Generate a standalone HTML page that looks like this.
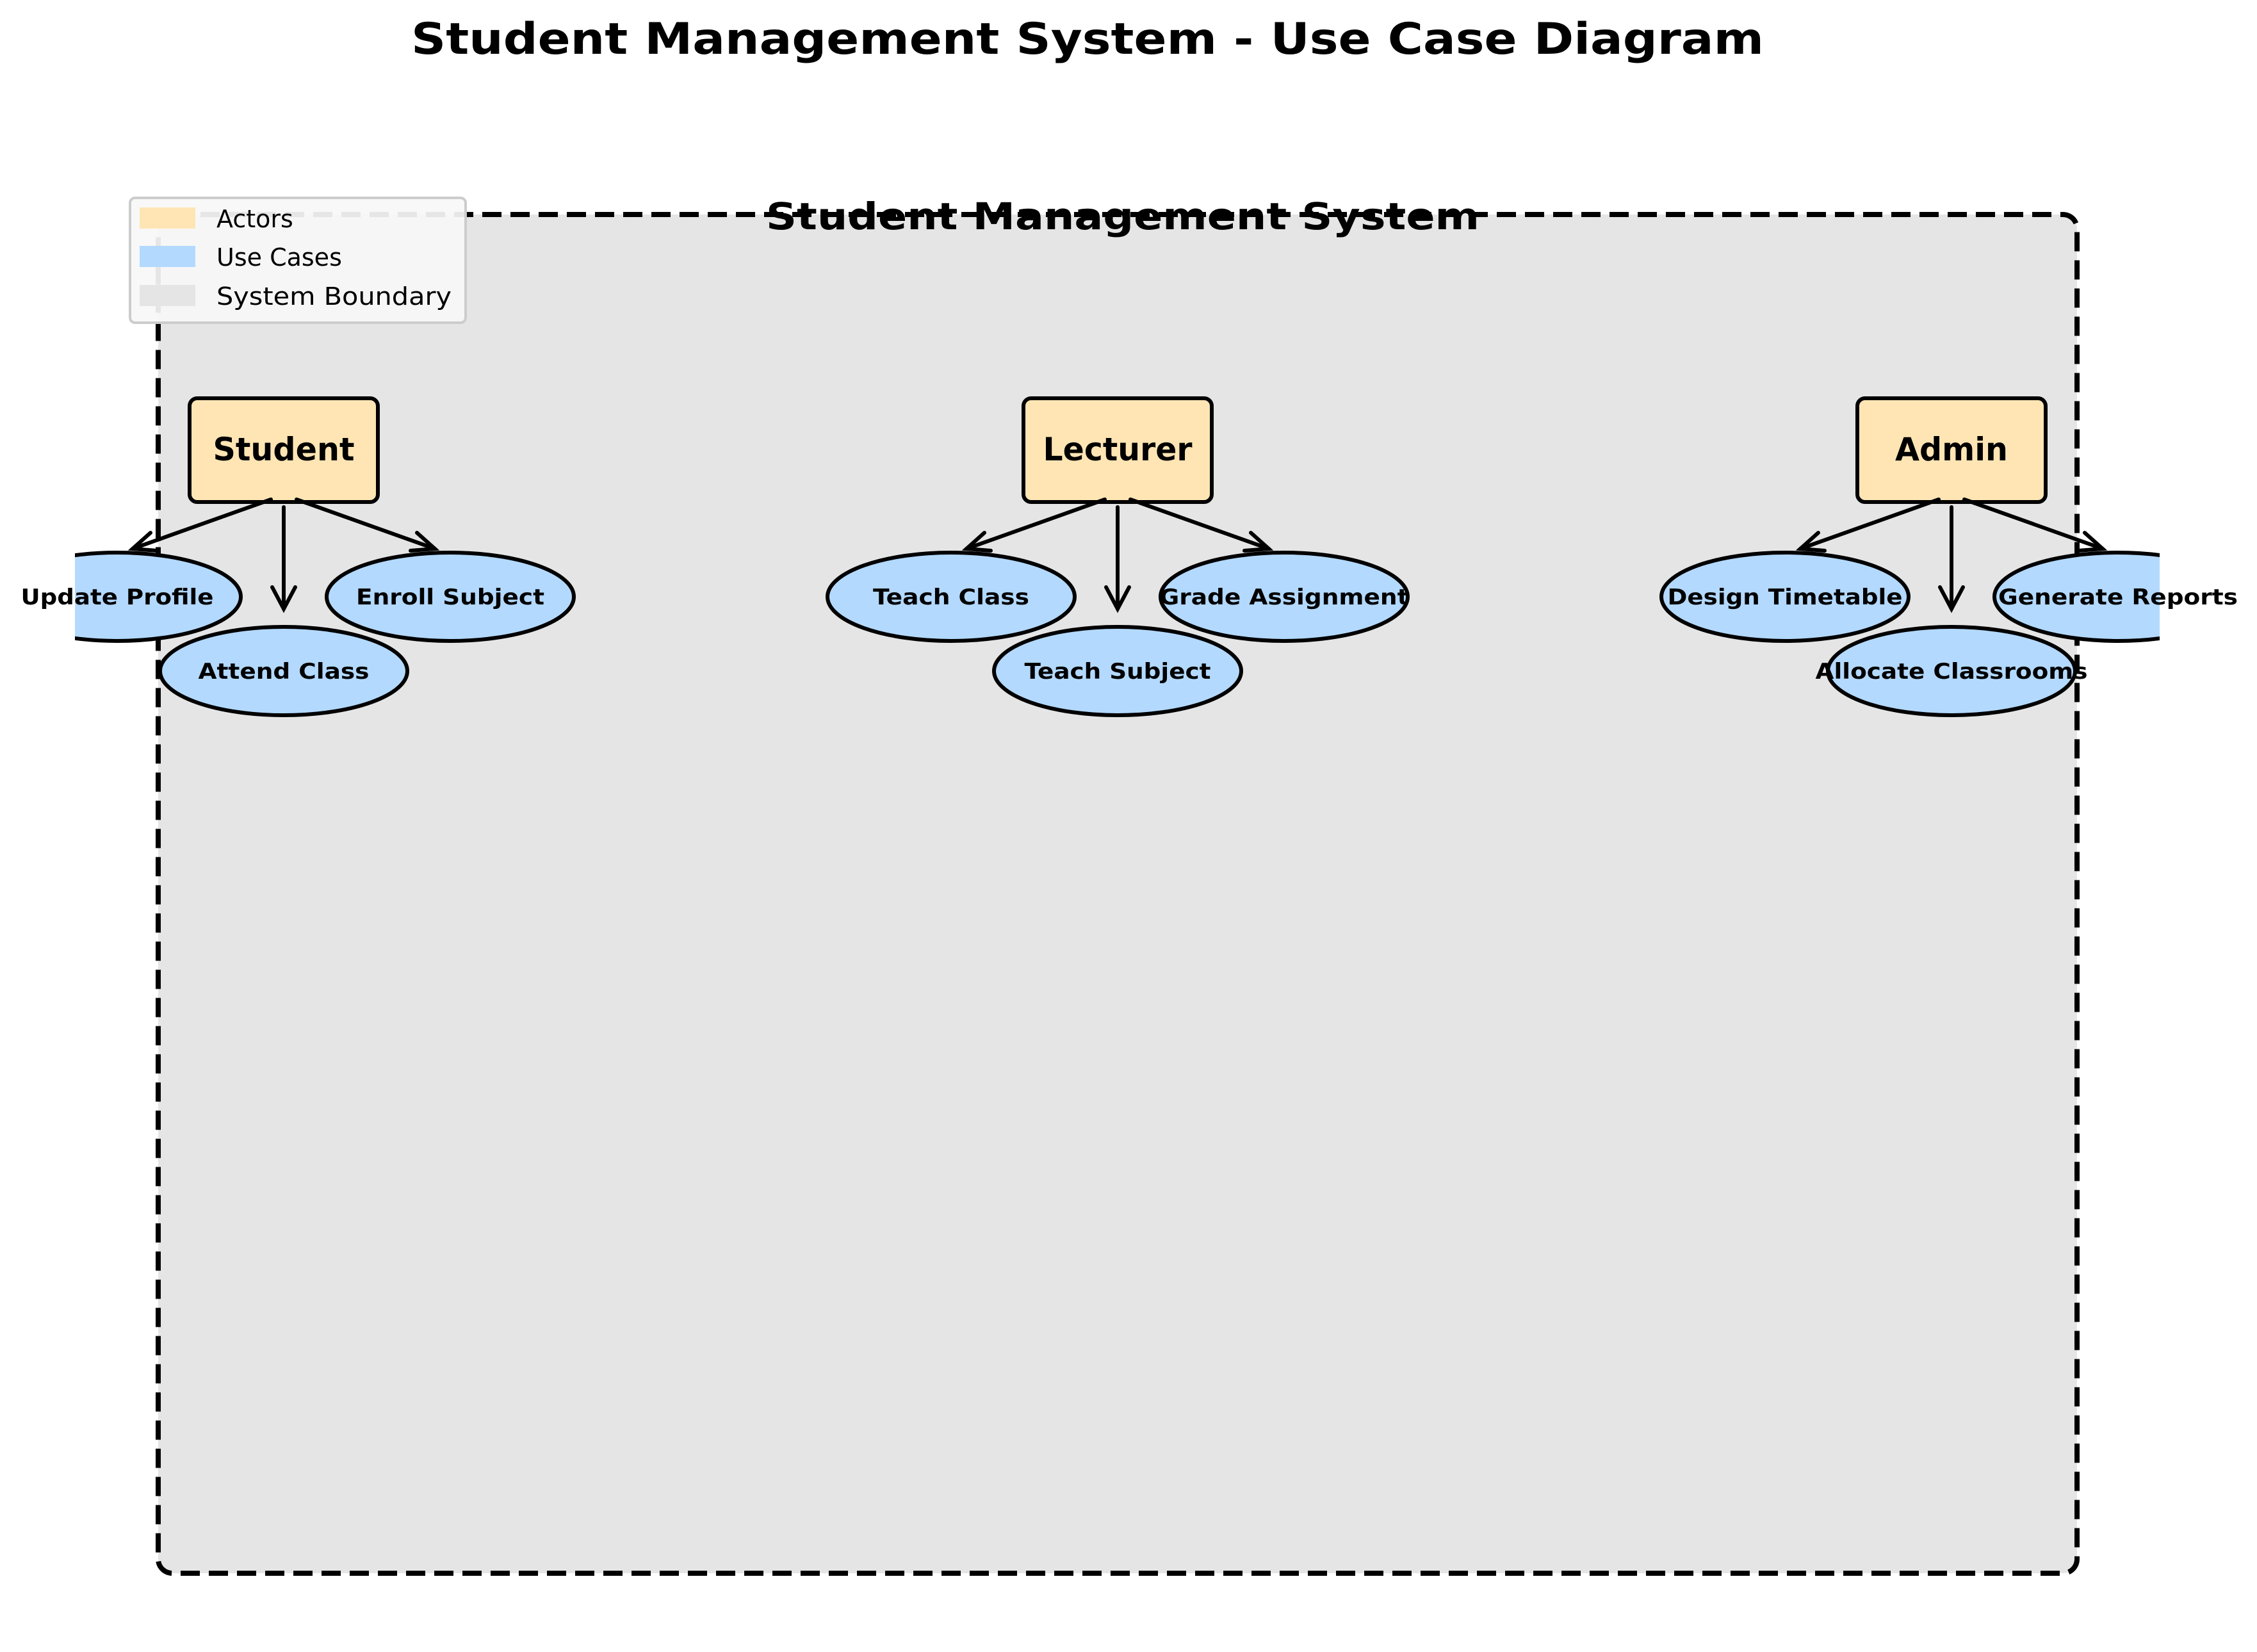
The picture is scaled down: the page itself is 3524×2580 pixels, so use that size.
<!DOCTYPE html>
<html><head><meta charset="utf-8"><style>html,body{margin:0;padding:0;background:#fff}svg{display:block}</style></head>
<body>
<svg xmlns="http://www.w3.org/2000/svg" width="3524" height="2580" viewBox="0 0 3524 2580" font-family="DejaVu Sans, Liberation Sans, sans-serif">
<defs>
<clipPath id="ax"><rect x="117" y="0" width="3255" height="2580"/></clipPath>
</defs>
<rect width="3524" height="2580" fill="#fff"/>
<text x="1698" y="84" text-anchor="middle" font-size="68" font-weight="bold" textLength="2112" lengthAdjust="spacingAndGlyphs">Student Management System - Use Case Diagram</text>
<g clip-path="url(#ax)">
<rect x="247" y="335" width="2996" height="2122" rx="22" fill="#e5e5e5" stroke="#000" stroke-width="8" stroke-dasharray="30,14"/>
<text x="1753" y="358" text-anchor="middle" font-size="58" font-weight="bold" textLength="1114" lengthAdjust="spacingAndGlyphs">Student Management System</text>
<g stroke="#000" stroke-width="6" fill="none" stroke-linecap="round">
<rect x="296" y="622" width="294" height="162" rx="12" fill="#ffe5b4"/>
<ellipse cx="183" cy="932" rx="193" ry="69" fill="#b3d9ff"/>
<ellipse cx="703" cy="932" rx="193" ry="69" fill="#b3d9ff"/>
<ellipse cx="443" cy="1048" rx="193" ry="69" fill="#b3d9ff"/>
<line x1="423" y1="780" x2="207" y2="857"/><polyline points="235,832 207,857 245,860"/>
<line x1="463" y1="780" x2="679" y2="857"/><polyline points="651,832 679,857 641,860"/>
<line x1="443" y1="792" x2="443" y2="951"/><polyline points="425,917 443,951 461,917"/>

<rect x="1598" y="622" width="294" height="162" rx="12" fill="#ffe5b4"/>
<ellipse cx="1485" cy="932" rx="193" ry="69" fill="#b3d9ff"/>
<ellipse cx="2005" cy="932" rx="193" ry="69" fill="#b3d9ff"/>
<ellipse cx="1745" cy="1048" rx="193" ry="69" fill="#b3d9ff"/>
<line x1="1725" y1="780" x2="1509" y2="857"/><polyline points="1537,832 1509,857 1547,860"/>
<line x1="1765" y1="780" x2="1981" y2="857"/><polyline points="1953,832 1981,857 1943,860"/>
<line x1="1745" y1="792" x2="1745" y2="951"/><polyline points="1727,917 1745,951 1763,917"/>

<rect x="2900" y="622" width="294" height="162" rx="12" fill="#ffe5b4"/>
<ellipse cx="2787" cy="932" rx="193" ry="69" fill="#b3d9ff"/>
<ellipse cx="3307" cy="932" rx="193" ry="69" fill="#b3d9ff"/>
<ellipse cx="3047" cy="1048" rx="193" ry="69" fill="#b3d9ff"/>
<line x1="3027" y1="780" x2="2811" y2="857"/><polyline points="2839,832 2811,857 2849,860"/>
<line x1="3067" y1="780" x2="3283" y2="857"/><polyline points="3255,832 3283,857 3245,860"/>
<line x1="3047" y1="792" x2="3047" y2="951"/><polyline points="3029,917 3047,951 3065,917"/>
</g>
</g>
<g font-weight="bold" text-anchor="middle">
<text x="443" y="719" font-size="50" textLength="221" lengthAdjust="spacingAndGlyphs">Student</text>
<text x="1745" y="719" font-size="50" textLength="233" lengthAdjust="spacingAndGlyphs">Lecturer</text>
<text x="3047" y="719" font-size="50" textLength="176" lengthAdjust="spacingAndGlyphs">Admin</text>
<g font-size="34">
<text x="183" y="944" textLength="301" lengthAdjust="spacingAndGlyphs">Update Profile</text>
<text x="703" y="944" textLength="294" lengthAdjust="spacingAndGlyphs">Enroll Subject</text>
<text x="443" y="1060" textLength="267" lengthAdjust="spacingAndGlyphs">Attend Class</text>
<text x="1485" y="944" textLength="244" lengthAdjust="spacingAndGlyphs">Teach Class</text>
<text x="2005" y="944" textLength="389" lengthAdjust="spacingAndGlyphs">Grade Assignment</text>
<text x="1745" y="1060" textLength="291" lengthAdjust="spacingAndGlyphs">Teach Subject</text>
<text x="2787" y="944" textLength="367" lengthAdjust="spacingAndGlyphs">Design Timetable</text>
<text x="3307" y="944" textLength="374" lengthAdjust="spacingAndGlyphs">Generate Reports</text>
<text x="3047" y="1060" textLength="425" lengthAdjust="spacingAndGlyphs">Allocate Classrooms</text>
</g>
</g>
<rect x="203" y="309" width="524" height="195" rx="8" fill="#f8f8f8" fill-opacity="0.93" stroke="#ccc" stroke-width="4"/>
<rect x="218" y="324" width="87" height="33" fill="#ffe5b4"/>
<rect x="218" y="384" width="87" height="33" fill="#b3d9ff"/>
<rect x="218" y="445" width="87" height="33" fill="#e5e5e5"/>
<g font-size="38">
<text x="338" y="355">Actors</text>
<text x="338" y="415">Use Cases</text>
<text x="338" y="476" textLength="367" lengthAdjust="spacingAndGlyphs">System Boundary</text>
</g>
</svg>
</body></html>
